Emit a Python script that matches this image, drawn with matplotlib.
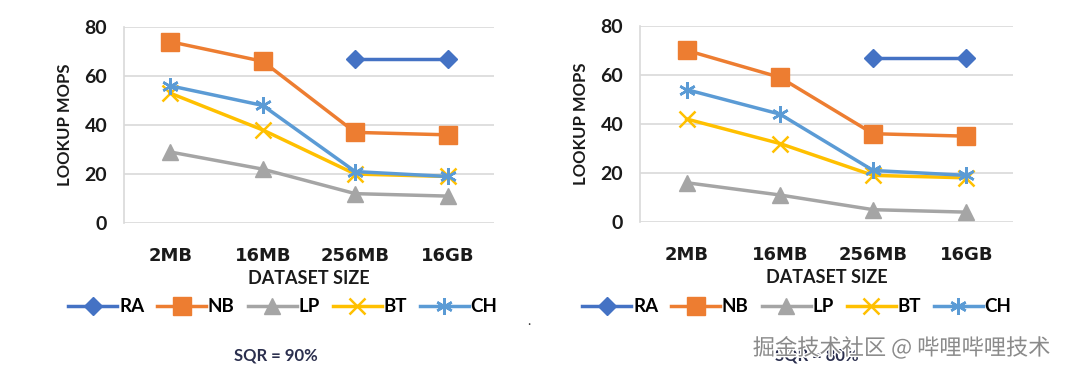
import numpy as np
import matplotlib.pyplot as plt
import matplotlib.patheffects as pe

# data
sizes = ['2MB', '16MB', '256MB', '16GB']
series = ['RA', 'NB', 'LP', 'BT', 'CH']

left_ra = [np.nan, np.nan, 67, 67]
left_nb = [74, 66, 37, 36]
left_lp = [29, 22, 12, 11]
left_bt = [53, 38, 20, 19]
left_ch = [56, 48, 21, 19]

right_ra = [np.nan, np.nan, 67, 67]
right_nb = [70, 59, 36, 35]
right_lp = [16, 11, 5, 4]
right_bt = [42, 32, 19, 18]
right_ch = [54, 44, 21, 19]

titles = ['SQR = 90%', 'SQR = 80%']

colors = ['#4472C4', '#ED7D31', '#A5A5A5', '#FFC000', '#5B9BD5']
markers = ['D', 's', '^', 'x', (6, 2, 0)]
msizes = [9, 13, 11, 11, 12]

plt.rcParams['font.family'] = ['Lato', 'DejaVu Sans']

fig = plt.figure(figsize=(10.8, 3.73), dpi=100)
ax1 = fig.add_axes([0.1148, 0.402, 0.3426, 0.5256])
ax2 = fig.add_axes([0.5926, 0.405, 0.3454, 0.5256])

panels = [
    (ax1, [left_ra, left_nb, left_lp, left_bt, left_ch], 0.262, 0.255),
    (ax2, [right_ra, right_nb, right_lp, right_bt, right_ch], 0.738, 0.756),
]

x = np.arange(len(sizes))
for i, (ax, data, legx, sqrx) in enumerate(panels):
    for name, vals, c, m, ms in zip(series, data, colors, markers, msizes):
        ax.plot(x, vals, color=c, marker=m, markersize=ms, linewidth=2.5,
                markeredgewidth=1.8 if m == 'x' or isinstance(m, tuple) else 1,
                label=name)
    ax.set_xlim(-0.5, 3.5)
    ax.set_ylim(0, 80)
    ax.set_yticks([0, 20, 40, 60, 80])
    ax.set_xticks(x)
    ax.set_xticklabels(sizes, family='DejaVu Sans')
    ax.grid(axis='y', color='#d9d9d9', linewidth=1.2)
    ax.set_axisbelow(True)
    for s in ['top', 'right', 'bottom']:
        ax.spines[s].set_visible(False)
    ax.spines['left'].set_color('#d9d9d9')
    ax.spines['left'].set_linewidth(1.2)
    ax.tick_params(length=0)
    ax.tick_params(axis='x', pad=17, labelsize=13)
    ax.tick_params(axis='y', pad=12, labelsize=14)
    for t in ax.get_xticklabels() + ax.get_yticklabels():
        t.set_fontweight('bold')
        t.set_color('#1a1a1a')
    ax.set_xlabel('DATASET SIZE', fontsize=13, fontweight='bold', labelpad=4, color='#1a1a1a')
    ax.set_ylabel('LOOKUP MOPS', fontsize=12, fontweight='bold', labelpad=8, color='#1a1a1a')
    fig.legend(*ax.get_legend_handles_labels(), loc='center', bbox_to_anchor=(legx, 0.177),
               ncol=5, frameon=False, handlelength=2.6, columnspacing=0.7,
               handletextpad=0.1, prop={'weight': 'bold', 'size': 13.5})
    fig.text(sqrx, 0.048, titles[i], ha='center', va='center', fontsize=12,
             fontweight='bold', color='#2b2f4e')

fig.text(0.49, 0.14, '.', ha='center', va='center', fontsize=10, color='#333333')

fig.text(0.835, 0.067, '掘金技术社区 @ 哔哩哔哩技术', ha='center', va='center', fontsize=16,
         color='#8a8a8a', family=['Noto Sans CJK SC', 'DejaVu Sans'],
         path_effects=[pe.withStroke(linewidth=2, foreground='white')])

fig.savefig('out.png', dpi=100)
